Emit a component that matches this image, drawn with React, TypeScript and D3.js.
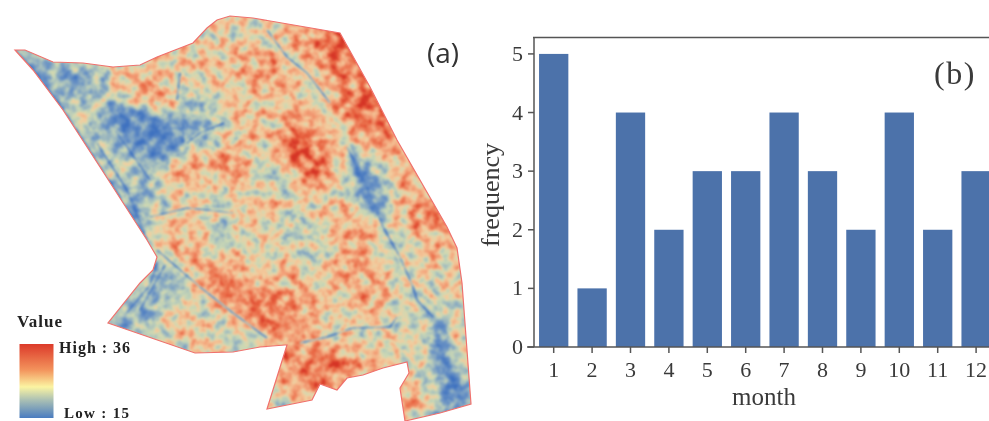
import React from "react";
import * as d3 from "d3";

// ---- panel (b) data
const months = ["1", "2", "3", "4", "5", "6", "7", "8", "9", "10", "11", "12"];
const frequency = [5, 1, 4, 2, 3, 3, 4, 3, 2, 4, 2, 3];
const yTicks = [0, 1, 2, 3, 4, 5];

const r00 = [4,4,4,4,4,5,5,5,5,5,5,5,5,6,6,7,8,8,7,6,6,6,6];
const r01 = [3,3,4,4,4,5,5,5,5,5.5,5,5,4.5,5,6,7,8.5,8,7,6,6,6,6];
const r02 = [3,3,4,4,5,5,5,5.5,6,5.5,5.5,6,7,6,5,7,7.5,7,7,6,6,6,6];
const r03 = [3,3,2,2,3,5,6,6,5,5,5,6,6,6.5,5.5,5,7,7,7,7,6,6,6];
const r04 = [3,3,3,4,4,5.5,6,7,4,3.5,5,5,6,5,5,5,7,8,7.5,7,6,6,6];
const r05 = [3,3,3,5,3,1.5,2,2.5,3.5,3,4.5,5.5,5,5.5,7.5,5.5,5,8,7.5,7,6,6,6];
const r06 = [3,3,3,4,3.5,2.5,1.5,2,3,3,4,5.5,5.5,7,8,6.5,5,6,7,7.5,6,6,6];
const r07 = [3,3,3,4,4,4.5,3,3,5,6,7,7.5,4,6,8,8,5,2.5,5,6,6,6,6];
const r08 = [4,4,4,4,4,4,3.5,4,7,5.5,5.5,5.5,4,3,6,7,5,2.5,3,5.5,6,6,6];
const r09 = [4,4,4,4,4,3,2,4,5,5.5,4,5.5,6.5,5,5,5.5,5.5,3.5,2.5,6,6.5,6,6];
const r10 = [4,4,4,4,4,3,2.5,5.5,6,5,4,5,5,4.5,4,5,6,6.5,3,5.5,6.5,7.5,7];
const r11 = [4,4,4,4,4,4,4,5,6,5.5,3,5,5,5,3.5,4.5,5.5,7,5,4,6,6,5];
const r12 = [4,4,4,4,4,4,4,4,6,6.5,5.5,6,4,5.5,5,4,6,6.5,5.5,3.5,5.5,5.5,5];
const r13 = [4,4,4,4,4,4,4,2.5,3,6.5,7.5,6.5,6,6,5.5,5.5,6,6,6,4.5,5,5,5];
const r14 = [4,4,4,4,4,4,3,3.5,4,4.5,6.5,7.5,7,7,6.5,5.5,5,6.5,6,5,4,4.5,5];
const r15 = [4,4,4,4,4,3,2.5,4.5,6,5,4.5,6,8,7,6.5,5.5,5,5,5.5,4,5,2.5,5];
const r16 = [4,4,4,4,4,4,4,5,5,5.5,5,3,4.5,7,6,6,4.5,4.5,5,5,5,2.5,5];
const r17 = [4,4,4,4,4,4,4,4,4,5,5,5,6,7,7,8,7.5,7,5.5,5,4,3,5];
const r18 = [4,4,4,4,4,4,4,4,4,5,5,5,6,6,7,7,6.5,6,5.5,5,5,3,2.5];
const r19 = [4,4,4,4,4,4,4,4,4,5,5,5,5,4,5.5,6,6,6,6,7,6,4,1.5];
const r20 = [4,4,4,4,4,4,4,4,4,5,5,5,5,4,5,5,5,5,6,6,5,3,2];
const valueRows = [r00,r01,r02,r03,r04,r05,r06,r07,r08,r09,r10,r11,r12,r13,r14,r15,r16,r17,r18,r19,r20];

// study-area outline, in map coordinates
const outline: [number, number][] = [
  [15,50],[25,50],[53,62],[83,63],[113,67],[140,65],[157,57],[193,43],[207,28],[217,20],[230,16],[253,18],[340,33],
  [370,87],[397,140],[447,227],[457,248],[462,283],[471,404],[440,413],[405,421],[400,388],[409,373],[407,362],
  [383,368],[363,375],[347,378],[337,390],[320,384],[312,400],[267,409],[287,345],[285,345],[260,347],[233,352],
  [195,353],[108,323],[140,283],[153,270],[157,257],[147,240],[100,167],[63,110],[33,70],
];

// cold wedge in the north-west, in map coordinates
const wedge: [number, number][] = [[108,100],[183,123],[183,143],[165,160],[135,140],[108,118]];
const coldPatchA: [number, number][] = [[352,155],[370,178],[382,215],[372,215],[358,190]];
const coldPatchB: [number, number][] = [[435,320],[452,360],[468,395],[445,405],[438,370]];

// narrow water channels, in map coordinates
const channelA: [number, number][] = [[347,147],[367,187],[383,227],[400,257],[413,287],[417,300],[433,317]];
const channelB: [number, number][] = [[397,317],[390,327],[353,328],[327,337],[300,343]];
const channelC: [number, number][] = [[157,250],[200,287],[233,313],[267,338]];
const channelD: [number, number][] = [[97,143],[127,190],[147,240]];
const channelE: [number, number][] = [[267,30],[287,57],[307,73],[330,103]];
const channelF: [number, number][] = [[224,123],[200,133],[187,143]];
const channelG: [number, number][] = [[183,123],[183,143]];
const channelH: [number, number][] = [[150,217],[187,208],[207,210],[233,213]];
const channelI: [number, number][] = [[180,73],[177,100]];
const channelJ: [number, number][] = [[15,50],[33,70],[63,110],[100,167],[147,240]];
const channelK: [number, number][] = [[157,262],[150,285],[125,315]];
const channelL: [number, number][] = [[165,265],[140,310]];
const channelN: [number, number][] = [[115,130],[150,180]];
const channels = [channelA, channelB, channelC, channelD, channelE, channelF, channelG, channelH, channelI, channelJ, channelK, channelL, channelN];

// colour ramp, low to high
const rampDomain = [0, 2, 3.6, 4.5, 5.3, 6.5, 8, 9];
const rampColors = ["#3f72c0", "#6f96c4", "#b0c6bc", "#cddab4", "#f3cfa0", "#f3a078", "#e8623f", "#d63426"];

const legendStops = [
  { offset: 0, color: "#dc3a2a" },
  { offset: 0.35, color: "#f3935c" },
  { offset: 0.58, color: "#fbf4a2" },
  { offset: 0.76, color: "#a9bfb4" },
  { offset: 1, color: "#4a7cc0" },
];

export default function App() {
  const xMap = d3.scaleLinear().domain([0, 22]).range([20, 460]);
  const yMap = d3.scaleLinear().domain([0, 20]).range([20, 420]);
  const gray = d3.scaleLinear<string>().domain([0, 9]).range(["#000000", "#ffffff"]);
  const ramp = d3.scaleLinear<string>().domain(rampDomain).range(rampColors).interpolate(d3.interpolateRgb);
  const samples = d3.range(0, 37).map((i) => d3.rgb(ramp((i / 36) * 9)));
  const table = (k: "r" | "g" | "b") => samples.map((c) => (c[k] / 255).toFixed(3)).join(" ");
  const line = d3.line();

  const x = d3.scaleBand<string>().domain(months).range([534.5, 995.3]).paddingInner(0.237).paddingOuter(0.1185);
  const y = d3.scaleLinear().domain([0, 5.28]).range([347, 37.5]);
  const serif = "'Liberation Serif', serif";
  const ink = "#3a3a3a";
  const axisColor = "#555";

  return (
    <svg width={989} height={421} style={{ position: "fixed", left: 0, top: 0, display: "block", background: "#fff" }}>
      <defs>
        <clipPath id="area"><path d={line(outline)! + "Z"} /></clipPath>
        <filter id="smooth" x="-5%" y="-5%" width="110%" height="110%" colorInterpolationFilters="sRGB">
          <feGaussianBlur stdDeviation="8" />
        </filter>
        <filter id="soft" filterUnits="userSpaceOnUse" x="0" y="0" width="989" height="421" colorInterpolationFilters="sRGB">
          <feGaussianBlur stdDeviation="2.5" />
        </filter>
        <filter id="colormap" filterUnits="userSpaceOnUse" x="0" y="0" width="989" height="421" colorInterpolationFilters="sRGB">
          <feTurbulence type="fractalNoise" baseFrequency="0.1" numOctaves="3" seed="7" result="t" />
          <feColorMatrix in="t" type="matrix" values="1 0 0 0 0 1 0 0 0 0 1 0 0 0 0 0 0 0 0 1" result="n" />
          <feComposite in="SourceGraphic" in2="n" operator="arithmetic" k1="0" k2="1" k3="0.8" k4="-0.4" result="v" />
          <feComponentTransfer in="v">
            <feFuncR type="table" tableValues={table("r")} />
            <feFuncG type="table" tableValues={table("g")} />
            <feFuncB type="table" tableValues={table("b")} />
            <feFuncA type="linear" slope="0" intercept="1" />
          </feComponentTransfer>
          <feGaussianBlur stdDeviation="0.8" />
        </filter>
        <linearGradient id="legendRamp" x1="0" y1="0" x2="0" y2="1">
          {legendStops.map((s) => <stop key={s.offset} offset={s.offset} stopColor={s.color} />)}
        </linearGradient>
      </defs>

      {/* panel (a) */}
      <g clipPath="url(#area)">
        <g filter="url(#colormap)">
          <g filter="url(#smooth)">
            <rect x={0} y={0} width={500} height={421} fill={gray(5)} />
            {valueRows.map((row, r) =>
              row.map((v, c) => (
                <rect key={`${r}-${c}`} x={xMap(c) - 10} y={yMap(r) - 10} width={20.5} height={20.5} fill={gray(v)} />
              ))
            )}
          </g>
          <g filter="url(#soft)">
            {[wedge, coldPatchA, coldPatchB].map((p, i) => (
              <path key={i} d={line(p)! + "Z"} fill={gray(1.2)} opacity={0.8} />
            ))}
          </g>
          {channels.map((c, i) => (
            <path key={i} d={line(c)!} fill="none" stroke={gray(1)} strokeWidth={i === 9 ? 2.5 : 1.6} strokeLinejoin="round" opacity={0.85} />
          ))}
        </g>
      </g>
      <path d={line(outline)! + "Z"} fill="none" stroke="#f0716d" strokeWidth={1.2} />

      <text x={427} y={63} fontFamily="'Open Sans', sans-serif" fontSize={28} fill="#333">(a)</text>

      <text x={17} y={327} fontFamily={serif} fontWeight="bold" fontSize={17} letterSpacing={1} fill="#222">Value</text>
      <rect x={19.5} y={344} width={34} height={74} fill="url(#legendRamp)" />
      <text x={59} y={353} fontFamily={serif} fontWeight="bold" fontSize={16} letterSpacing={1} fill="#222">High : 36</text>
      <text x={64} y={418} fontFamily={serif} fontWeight="bold" fontSize={15} letterSpacing={1.3} fill="#222">Low : 15</text>

      {/* panel (b) */}
      {months.map((m, i) => (
        <rect key={m} x={x(m)} y={y(frequency[i])} width={x.bandwidth()} height={y(0) - y(frequency[i])} fill="#4c72aa" />
      ))}
      <line x1={534} x2={534} y1={37.5} y2={347} stroke={axisColor} strokeWidth={1.5} />
      <line x1={533} x2={989} y1={37.5} y2={37.5} stroke={axisColor} strokeWidth={1.5} />
      <line x1={527} x2={989} y1={347} y2={347} stroke={axisColor} strokeWidth={1.5} />
      {yTicks.map((t) => (
        <g key={t}>
          <line x1={528} x2={534} y1={y(t)} y2={y(t)} stroke={axisColor} strokeWidth={1.5} />
          <text x={523} y={y(t) + 7} textAnchor="end" fontFamily={serif} fontSize={22} fill={ink}>{t}</text>
        </g>
      ))}
      {months.map((m) => {
        const cx = x(m)! + x.bandwidth() / 2;
        return (
          <g key={m}>
            <line x1={cx} x2={cx} y1={347} y2={353} stroke={axisColor} strokeWidth={1.5} />
            <text x={cx} y={377} textAnchor="middle" fontFamily={serif} fontSize={22} fill={ink}>{m}</text>
          </g>
        );
      })}
      <text x={764} y={405} textAnchor="middle" fontFamily={serif} fontSize={25} fill={ink}>month</text>
      <text transform="translate(499,195) rotate(-90)" textAnchor="middle" fontFamily={serif} fontSize={26} fill={ink}>frequency</text>
      <text x={934} y={84} fontFamily={serif} fontSize={32} fill={ink} letterSpacing={1.5}>(b)</text>
    </svg>
  );
}
